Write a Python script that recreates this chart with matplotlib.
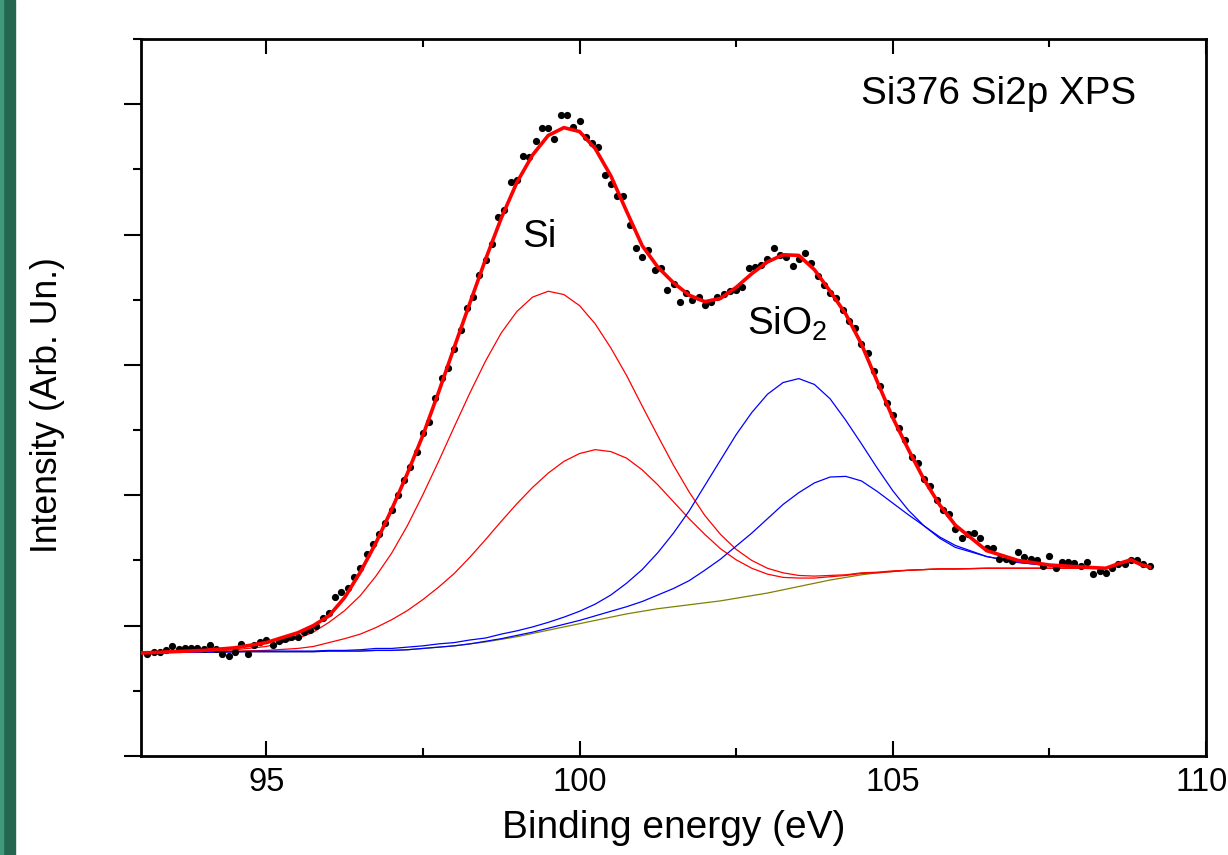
"""Si376 Si2p XPS spectrum with its Si / SiO2 peak fit components."""
import matplotlib
matplotlib.use("Agg")
import matplotlib.pyplot as plt
from matplotlib.patches import Rectangle
from matplotlib.ticker import FixedFormatter, FixedLocator, MultipleLocator

plt.rcParams["font.family"] = ["Liberation Sans", "DejaVu Sans"]
plt.rcParams["mathtext.fontset"] = "custom"
plt.rcParams["mathtext.rm"] = "Liberation Sans"

# measured spectrum: binding energy (eV) and intensity (arb. units)
energy = [
    93.1, 93.2, 93.3, 93.4, 93.5, 93.6, 93.7, 93.8, 93.9, 94.0,
    94.1, 94.2, 94.3, 94.4, 94.5, 94.6, 94.7, 94.8, 94.9, 95.0,
    95.1, 95.2, 95.3, 95.4, 95.5, 95.6, 95.7, 95.8, 95.9, 96.0,
    96.1, 96.2, 96.3, 96.4, 96.5, 96.6, 96.7, 96.8, 96.9, 97.0,
    97.1, 97.2, 97.3, 97.4, 97.5, 97.6, 97.7, 97.8, 97.9, 98.0,
    98.1, 98.2, 98.3, 98.4, 98.5, 98.6, 98.7, 98.8, 98.9, 99.0,
    99.1, 99.2, 99.3, 99.4, 99.5, 99.6, 99.7, 99.8, 99.9, 100.0,
    100.1, 100.2, 100.3, 100.4, 100.5, 100.6, 100.7, 100.8, 100.9, 101.0,
    101.1, 101.2, 101.3, 101.4, 101.5, 101.6, 101.7, 101.8, 101.9, 102.0,
    102.1, 102.2, 102.3, 102.4, 102.5, 102.6, 102.7, 102.8, 102.9, 103.0,
    103.1, 103.2, 103.3, 103.4, 103.5, 103.6, 103.7, 103.8, 103.9, 104.0,
    104.1, 104.2, 104.3, 104.4, 104.5, 104.6, 104.7, 104.8, 104.9, 105.0,
    105.1, 105.2, 105.3, 105.4, 105.5, 105.6, 105.7, 105.8, 105.9, 106.0,
    106.1, 106.2, 106.3, 106.4, 106.5, 106.6, 106.7, 106.8, 106.9, 107.0,
    107.1, 107.2, 107.3, 107.4, 107.5, 107.6, 107.7, 107.8, 107.9, 108.0,
    108.1, 108.2, 108.3, 108.4, 108.5, 108.6, 108.7, 108.8, 108.9, 109.0,
    109.1,
]
counts = [
    1.57, 1.59, 1.60, 1.62, 1.68, 1.64, 1.65, 1.65, 1.65, 1.64,
    1.70, 1.64, 1.57, 1.54, 1.60, 1.72, 1.57, 1.70, 1.75, 1.78,
    1.71, 1.77, 1.80, 1.82, 1.82, 1.91, 1.94, 2.00, 2.12, 2.19,
    2.44, 2.51, 2.57, 2.75, 2.89, 3.10, 3.25, 3.41, 3.57, 3.77,
    4.00, 4.23, 4.44, 4.67, 4.96, 5.13, 5.49, 5.80, 5.95, 6.24,
    6.54, 6.88, 7.04, 7.38, 7.61, 7.86, 8.27, 8.37, 8.81, 8.83,
    9.20, 9.19, 9.43, 9.64, 9.64, 9.46, 9.84, 9.84, 9.65, 9.74,
    9.49, 9.41, 9.35, 8.92, 8.77, 8.59, 8.59, 8.14, 7.79, 7.66,
    7.77, 7.45, 7.48, 7.15, 7.24, 6.97, 7.10, 7.00, 7.04, 6.92,
    6.97, 7.04, 7.09, 7.14, 7.15, 7.20, 7.48, 7.50, 7.54, 7.62,
    7.79, 7.69, 7.66, 7.52, 7.62, 7.72, 7.57, 7.36, 7.22, 7.10,
    7.02, 6.84, 6.67, 6.57, 6.32, 6.18, 5.91, 5.67, 5.42, 5.23,
    5.03, 4.85, 4.58, 4.50, 4.25, 4.14, 3.93, 3.78, 3.71, 3.49,
    3.35, 3.40, 3.42, 3.34, 3.19, 3.19, 3.02, 3.02, 2.99, 3.13,
    3.05, 3.02, 3.01, 2.92, 3.07, 2.88, 2.97, 2.97, 2.96, 2.92,
    2.98, 2.79, 2.84, 2.81, 2.88, 2.94, 2.94, 3.01, 3.01, 2.94,
    2.91,
]

# fit curves, read on one shared energy grid
fit_energy = [
    93.0, 93.5, 94.0, 94.5, 95.0, 95.5, 95.75, 96.0, 96.25, 96.5,
    96.75, 97.0, 97.25, 97.5, 97.75, 98.0, 98.25, 98.5, 98.75, 99.0,
    99.25, 99.5, 99.75, 100.0, 100.25, 100.5, 100.75, 101.0, 101.25, 101.5,
    101.75, 102.0, 102.25, 102.5, 102.75, 103.0, 103.25, 103.5, 103.75, 104.0,
    104.25, 104.5, 104.75, 105.0, 105.25, 105.5, 105.75, 106.0, 106.5, 107.0,
    107.5, 108.0, 108.4, 108.6, 108.8, 108.95, 109.1,
]
background = [
    1.59, 1.59, 1.59, 1.60, 1.60, 1.60, 1.60, 1.61, 1.61, 1.61,
    1.62, 1.62, 1.63, 1.65, 1.67, 1.69, 1.72, 1.75, 1.79, 1.83,
    1.88, 1.93, 1.98, 2.03, 2.08, 2.13, 2.18, 2.22, 2.26, 2.29,
    2.32, 2.35, 2.38, 2.42, 2.46, 2.50, 2.55, 2.60, 2.65, 2.70,
    2.74, 2.78, 2.81, 2.83, 2.85, 2.86, 2.87, 2.87, 2.88, 2.88,
    2.88, 2.88, 2.88, 2.95, 3.01, 2.94, 2.90,
]
si_a = [
    1.59, 1.59, 1.60, 1.63, 1.68, 1.80, 1.90, 2.05, 2.23, 2.46,
    2.76, 3.11, 3.53, 4.01, 4.52, 5.05, 5.57, 6.06, 6.49, 6.82,
    7.04, 7.13, 7.08, 6.91, 6.63, 6.26, 5.84, 5.37, 4.91, 4.46,
    4.05, 3.69, 3.40, 3.17, 3.00, 2.88, 2.81, 2.77, 2.76, 2.77,
    2.78, 2.81, 2.82, 2.84, 2.85, 2.86, 2.87, 2.87, 2.88, 2.88,
    2.88, 2.88, 2.88, 2.95, 3.01, 2.94, 2.90,
]
si_b = [
    1.59, 1.59, 1.59, 1.61, 1.62, 1.65, 1.68, 1.74, 1.80, 1.87,
    1.97, 2.09, 2.23, 2.40, 2.59, 2.80, 3.05, 3.32, 3.60, 3.87,
    4.12, 4.34, 4.52, 4.64, 4.70, 4.67, 4.57, 4.39, 4.16, 3.90,
    3.64, 3.40, 3.18, 3.01, 2.88, 2.79, 2.74, 2.73, 2.73, 2.75,
    2.77, 2.80, 2.81, 2.83, 2.85, 2.86, 2.87, 2.87, 2.88, 2.88,
    2.88, 2.88, 2.88, 2.95, 3.01, 2.94, 2.90,
]
sio2_a = [
    1.59, 1.59, 1.59, 1.60, 1.61, 1.61, 1.61, 1.62, 1.62, 1.63,
    1.65, 1.65, 1.67, 1.69, 1.72, 1.74, 1.78, 1.81, 1.87, 1.92,
    1.98, 2.05, 2.13, 2.22, 2.33, 2.47, 2.65, 2.86, 3.12, 3.42,
    3.76, 4.15, 4.54, 4.93, 5.27, 5.55, 5.73, 5.79, 5.70, 5.48,
    5.15, 4.79, 4.42, 4.07, 3.77, 3.53, 3.34, 3.20, 3.06, 2.97,
    2.92, 2.90, 2.88, 2.95, 3.01, 2.94, 2.90,
]
sio2_b = [
    1.59, 1.59, 1.59, 1.60, 1.60, 1.60, 1.60, 1.61, 1.61, 1.61,
    1.62, 1.62, 1.63, 1.65, 1.67, 1.69, 1.72, 1.76, 1.80, 1.85,
    1.90, 1.96, 2.02, 2.08, 2.15, 2.22, 2.29, 2.37, 2.47, 2.57,
    2.69, 2.85, 3.02, 3.22, 3.42, 3.64, 3.86, 4.04, 4.19, 4.28,
    4.29, 4.22, 4.06, 3.88, 3.70, 3.53, 3.36, 3.23, 3.06, 2.97,
    2.92, 2.90, 2.88, 2.95, 3.01, 2.94, 2.90,
]
envelope = [
    1.58, 1.60, 1.62, 1.66, 1.74, 1.89, 2.00, 2.15, 2.43, 2.82,
    3.27, 3.78, 4.33, 4.92, 5.58, 6.27, 6.95, 7.62, 8.25, 8.80,
    9.22, 9.52, 9.64, 9.58, 9.32, 8.90, 8.36, 7.83, 7.50, 7.26,
    7.07, 6.97, 7.02, 7.19, 7.40, 7.58, 7.69, 7.68, 7.46, 7.13,
    6.78, 6.32, 5.75, 5.19, 4.70, 4.24, 3.85, 3.54, 3.15, 3.00,
    2.93, 2.90, 2.88, 2.95, 3.01, 2.94, 2.90,
]
x_ticks = [95, 100, 105, 110]
x_ticklabels = ["95", "100", "105", ""]   # 110 drawn by hand, nudged inside

W, H = 1228, 855
fig = plt.figure(figsize=(W / 100, H / 100), dpi=100)
ax = fig.add_axes([141 / W, 1 - 756 / H, 1065 / W, 717 / H])

# green page edge on the far left
fig.patches.append(Rectangle((0, 0), 15 / W, 1, transform=fig.transFigure,
                             color="#24664f", zorder=0))
fig.patches.append(Rectangle((0, 0), 3 / W, 1, transform=fig.transFigure,
                             color="#3f9a7b", zorder=1))

ax.plot(fit_energy, background, color="#808000", lw=0.9, zorder=2)
ax.plot(fit_energy, si_a, color="#ff0000", lw=0.9, zorder=3)
ax.plot(fit_energy, si_b, color="#ff0000", lw=0.9, zorder=3)
ax.plot(fit_energy, sio2_a, color="#0000ff", lw=0.9, zorder=3)
ax.plot(fit_energy, sio2_b, color="#0000ff", lw=0.9, zorder=3)
ax.plot(energy, counts, "o", color="black", ms=5.2, mew=0, zorder=4)
ax.plot(fit_energy, envelope, color="#ff0000", lw=2.6, zorder=5)

ax.set_xlim(93, 110)
ax.set_ylim(0, 11)

ax.xaxis.set_major_locator(FixedLocator(x_ticks))
ax.xaxis.set_major_formatter(FixedFormatter(x_ticklabels))
ax.xaxis.set_minor_locator(MultipleLocator(2.5))
ax.yaxis.set_major_locator(MultipleLocator(2))
ax.yaxis.set_minor_locator(MultipleLocator(1))
ax.tick_params(axis="x", which="both", direction="in", top=True, bottom=True,
               width=1.5)
ax.tick_params(axis="x", which="major", length=10.8, labelsize=23.5, pad=8)
ax.tick_params(axis="x", which="minor", length=5.8)
ax.tick_params(axis="y", which="both", direction="out", left=True,
               right=False, labelleft=False, width=1.5)
ax.tick_params(axis="y", which="major", length=12.5)
ax.tick_params(axis="y", which="minor", length=6)
for s in ax.spines.values():
    s.set_linewidth(2)

# last tick label sits on the figure edge; pull it in a few pixels
ax.text(x_ticks[-1] - 0.07, -0.0153, "110", fontsize=23.5, ha="center",
        va="top", transform=ax.get_xaxis_transform(), clip_on=False)

ax.set_xlabel("Binding energy (eV)", fontsize=28)
ax.xaxis.set_label_coords(0.5, -0.075)
ax.set_ylabel("Intensity (Arb. Un.)", fontsize=25.6)
ax.yaxis.set_label_coords(-0.071, 0.49)

ax.text(104.5, 10.0, "Si376 Si2p XPS", fontsize=27.8, ha="left",
        va="baseline")
ax.text(99.08, 7.81, "Si", fontsize=27.8, ha="left", va="baseline")
ax.text(102.68, 6.46, r"SiO$_\mathrm{2}$", fontsize=27.8, ha="left",
        va="baseline")

fig.savefig("out.png", dpi=100)
